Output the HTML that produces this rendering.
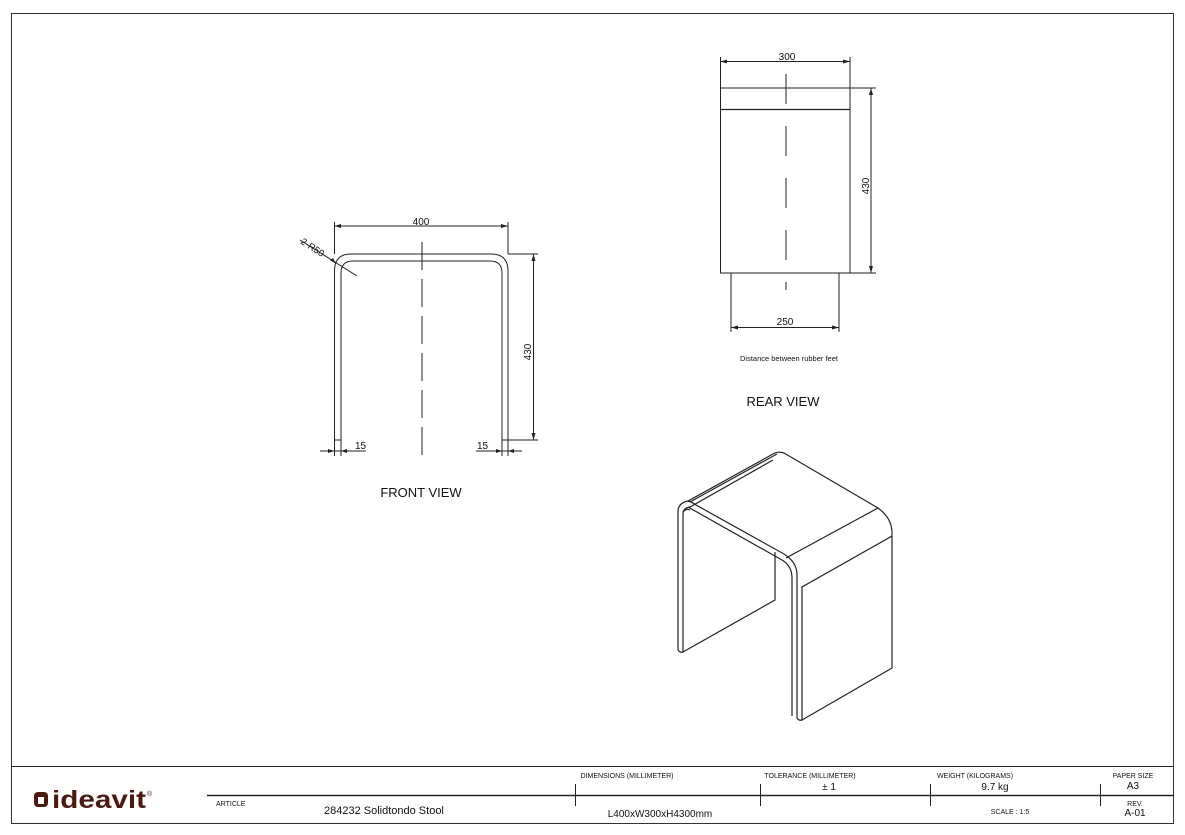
<!DOCTYPE html>
<html><head><meta charset="utf-8"><style>
html,body{margin:0;padding:0;background:#fff;}
svg{display:block;font-family:"Liberation Sans",sans-serif;}
</style></head><body>
<svg width="1185" height="835" viewBox="0 0 1185 835" xmlns="http://www.w3.org/2000/svg">
<rect x="0" y="0" width="1185" height="835" fill="#fff"/>
<g fill="none" stroke="#222" stroke-width="1">
<rect x="11.5" y="13.5" width="1162" height="810" stroke="#333"/>
<line x1="11" y1="766.5" x2="1174" y2="766.5"/>
<line x1="207" y1="795.5" x2="1174" y2="795.5" stroke-width="1.5"/>
<line x1="575.5" y1="784" x2="575.5" y2="806"/>
<line x1="760.5" y1="784" x2="760.5" y2="806"/>
<line x1="930.5" y1="784" x2="930.5" y2="806"/>
<line x1="1100.5" y1="784" x2="1100.5" y2="806"/>

<!-- FRONT VIEW -->
<path d="M334.5 440 V271 Q334.5 254 351 254 H491 Q508 254 508 271 V440"/>
<path d="M341 440 V273 Q341 261 353 261 H490 Q502 261 502 273 V440"/>
<line x1="334" y1="440" x2="341" y2="440"/>
<line x1="502" y1="440" x2="508" y2="440"/>
<line x1="422" y1="242" x2="422" y2="455" stroke-dasharray="28,9"/>
<line x1="334.5" y1="226" x2="508" y2="226"/>
<line x1="334.5" y1="222" x2="334.5" y2="254"/>
<line x1="508" y1="222" x2="508" y2="254"/>
<line x1="508" y1="254" x2="538" y2="254"/>
<line x1="502" y1="440" x2="538" y2="440"/>
<line x1="533.5" y1="254" x2="533.5" y2="440"/>
<line x1="300" y1="240" x2="357" y2="276"/>
<line x1="334.5" y1="440" x2="334.5" y2="456"/>
<line x1="341" y1="440" x2="341" y2="456"/>
<line x1="320" y1="451" x2="366" y2="451"/>
<line x1="502" y1="440" x2="502" y2="456"/>
<line x1="508" y1="440" x2="508" y2="456"/>
<line x1="476" y1="451" x2="522" y2="451"/>

<!-- REAR VIEW -->
<line x1="720.5" y1="57" x2="720.5" y2="273"/>
<line x1="850" y1="57" x2="850" y2="273"/>
<line x1="720" y1="88" x2="876" y2="88"/>
<line x1="720" y1="109.5" x2="850" y2="109.5" stroke-width="1.3"/>
<line x1="720" y1="273" x2="876" y2="273"/>
<line x1="720" y1="61.5" x2="850" y2="61.5"/>
<line x1="871" y1="88" x2="871" y2="273"/>
<line x1="731" y1="273" x2="731" y2="332"/>
<line x1="839" y1="273" x2="839" y2="332"/>
<line x1="731" y1="327.5" x2="839" y2="327.5"/>
<line x1="786" y1="74" x2="786" y2="290" stroke-dasharray="30,22"/>

<!-- ISO -->
<g stroke-width="1.2">
<path d="M678 650 V512 Q678 503 688 501 L773 454 Q778 451 784 453 L878 508 Q892 518 892 533 V668 L802 720"/>
<path d="M683 652 V514 Q683 508 690 507 L773 460"/>
<path d="M690 502 L777 454"/>
<path d="M678 650 Q680 653 683 652 L775 600 V552"/>
<path d="M688 501 Q692 502 696 505 L784 554 Q797 562 797 575 V718 Q799 721 802 720 V587 L892 536"/>
<path d="M688 507 L782 560 Q792 566 792 578 V716"/>
<path d="M786 558 L878 508"/>
<path d="M683 512 Q686 508 690 510"/>
</g>
</g>
<g fill="#222" stroke="none">
<polygon points="334.5,226 341,224 341,228"/><polygon points="508,226 501,224 501,228"/>
<polygon points="533.5,254 531.5,261 535.5,261"/><polygon points="533.5,440 531.5,433 535.5,433"/>
<polygon points="720.5,61.5 727,59.5 727,63.5"/><polygon points="850,61.5 843,59.5 843,63.5"/>
<polygon points="871,88 869,95 873,95"/><polygon points="871,273 869,266 873,266"/>
<polygon points="731,327.5 738,325.5 738,329.5"/><polygon points="839,327.5 832,325.5 832,329.5"/>
<polygon points="334.5,451 328,449 328,453"/><polygon points="341,451 347,449 347,453"/>
<polygon points="502,451 496,449 496,453"/><polygon points="508,451 514,449 514,453"/>
<polygon points="336,264 330,260 333,258"/>
</g>
<g fill="#111" font-size="10">
<text x="421" y="225" text-anchor="middle">400</text>
<text x="787" y="60" text-anchor="middle">300</text>
<text x="785" y="325" text-anchor="middle">250</text>
<text transform="translate(531,352) rotate(-90)" text-anchor="middle">430</text>
<text transform="translate(869,186) rotate(-90)" text-anchor="middle">430</text>
<text x="355" y="449">15</text>
<text x="477" y="449">15</text>
<text transform="translate(300,243) rotate(33)" font-size="9.5">2-R50</text>
<text x="789" y="361" text-anchor="middle" font-size="7.5">Distance between rubber feet</text>
<text x="783" y="406" text-anchor="middle" font-size="13">REAR VIEW</text>
<text x="421" y="497" text-anchor="middle" font-size="13">FRONT VIEW</text>
<g font-size="7"><text x="627" y="778" text-anchor="middle">DIMENSIONS (MILLIMETER)</text>
<text x="810" y="778" text-anchor="middle">TOLERANCE (MILLIMETER)</text>
<text x="975" y="778" text-anchor="middle">WEIGHT (KILOGRAMS)</text>
<text x="1133" y="778" text-anchor="middle">PAPER SIZE</text>
<text x="216" y="806">ARTICLE</text>
<text x="1135" y="806" text-anchor="middle">REV.</text>
<text x="1010" y="814" text-anchor="middle">SCALE : 1:5</text></g>
<text x="829" y="790" text-anchor="middle" font-size="10">± 1</text>
<text x="995" y="790" text-anchor="middle" font-size="10">9.7 kg</text>
<text x="1133" y="789" text-anchor="middle" font-size="10">A3</text>
<text x="1135" y="816" text-anchor="middle" font-size="10">A-01</text>
<text x="324" y="814" font-size="11">284232 Solidtondo Stool</text>
<text x="660" y="817" text-anchor="middle" font-size="10">L400xW300xH4300mm</text>
</g>
<g>
<rect x="34" y="792" width="14" height="15" rx="4" fill="#4a1a10"/>
<rect x="38" y="797" width="6" height="7" fill="#fff"/>
<text x="52" y="808" font-size="25" font-weight="bold" fill="#4a1a10" textLength="94" lengthAdjust="spacingAndGlyphs">ideavit</text>
<text x="147" y="796" font-size="7" fill="#4a1a10">®</text>
</g>
</svg>
</body></html>
